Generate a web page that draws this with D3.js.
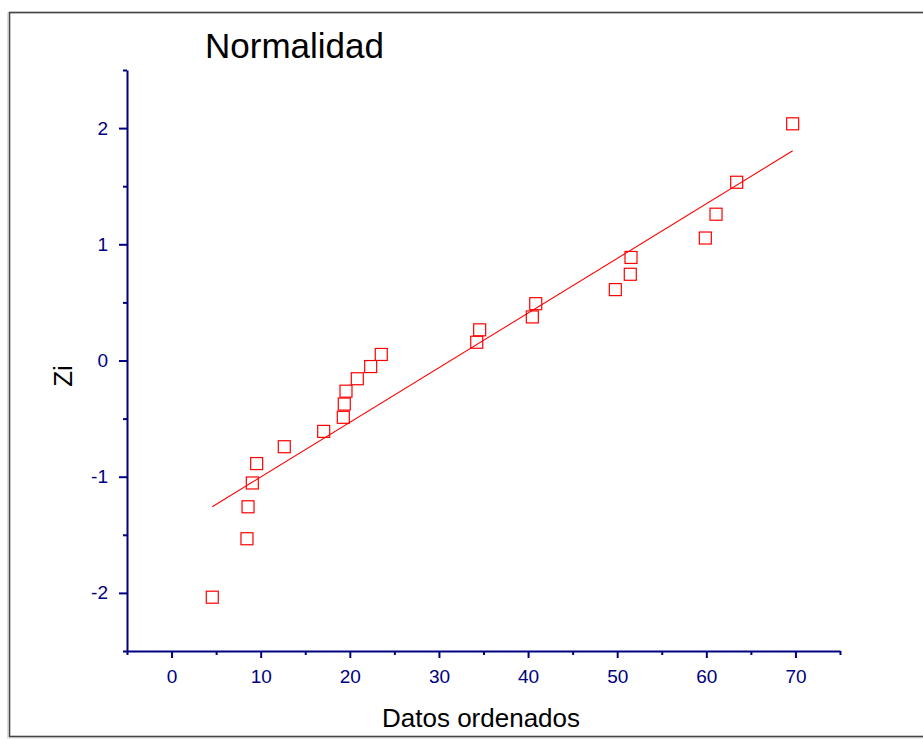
<!DOCTYPE html>
<html>
<head>
<meta charset="utf-8">
<script src="https://cdn.jsdelivr.net/npm/d3@7"></script>
<style>
  html, body { margin: 0; padding: 0; background: #fff; }
  svg { display: block; font-family: "Liberation Sans", Arial, sans-serif; }
</style>
</head>
<body>
<svg id="chart" width="923" height="739"></svg>
<script>
// Ordered sample values and their normal scores
const datos = [4.57, 8.46, 8.58, 9.06, 9.55, 12.65, 17.07, 19.27, 19.38, 19.57, 20.84, 22.34,
               23.53, 34.24, 34.57, 40.48, 40.86, 49.79, 51.47, 51.55, 59.89, 61.09, 63.41, 69.69];
const zi = [-2.037, -1.534, -1.259, -1.054, -0.887, -0.742, -0.610, -0.489, -0.375, -0.264, -0.157, -0.052,
            0.052, 0.157, 0.264, 0.375, 0.489, 0.610, 0.742, 0.887, 1.054, 1.259, 1.534, 2.037];

const xMajor = [0, 10, 20, 30, 40, 50, 60, 70];
const xMinor = [-5, 5, 15, 25, 35, 45, 55, 65, 75];
const yMajor = [-2, -1, 0, 1, 2];
const yMinor = [-2.5, -1.5, -0.5, 0.5, 1.5, 2.5];

const titulo = "Normalidad";
const tituloX = "Datos ordenados";
const tituloY = "Zi";

const svg = d3.select("#chart");
const axisColor = "#000080";
const markColor = "#ff0000";

// Page frame
svg.append("rect")
  .attr("x", 7.5).attr("y", 13).attr("width", 930).attr("height", 725)
  .attr("fill", "none").attr("stroke", "#ddd").attr("stroke-width", 1);
svg.append("rect")
  .attr("x", 9.5).attr("y", 12.5).attr("width", 930).attr("height", 724)
  .attr("fill", "none").attr("stroke", "#444").attr("stroke-width", 1.6);

const x = d3.scaleLinear().domain([-5, 75]).range([127, 840]);
const y = d3.scaleLinear().domain([-2.5, 2.5]).range([651, 70]);

// plain hyphen for negatives
const fmt = d => String(d);

function styleAxis(g) {
  g.select(".domain").attr("stroke", axisColor).attr("stroke-width", 2);
  g.selectAll(".tick line").attr("stroke", axisColor).attr("stroke-width", 2);
  g.selectAll(".tick text").attr("fill", axisColor)
    .attr("font-family", "Liberation Sans, Arial, sans-serif").attr("font-size", 19);
}

// X axis: major ticks with labels, then minor ticks
const gx = svg.append("g").attr("transform", `translate(0,${y(-2.5)})`)
  .call(d3.axisBottom(x).tickValues(xMajor).tickSize(7).tickPadding(12)
        .tickFormat(fmt).tickSizeOuter(0));
styleAxis(gx);
gx.selectAll(".tick text").attr("dy", "0.71em");
const gxm = svg.append("g").attr("transform", `translate(0,${y(-2.5)})`)
  .call(d3.axisBottom(x).tickValues(xMinor).tickSize(4).tickFormat("").tickSizeOuter(0));
styleAxis(gxm);
gxm.select(".domain").remove();

// Y axis
const gy = svg.append("g").attr("transform", `translate(${x(-5)},0)`)
  .call(d3.axisLeft(y).tickValues(yMajor).tickSize(8).tickPadding(11)
        .tickFormat(fmt).tickSizeOuter(0));
styleAxis(gy);
const gym = svg.append("g").attr("transform", `translate(${x(-5)},0)`)
  .call(d3.axisLeft(y).tickValues(yMinor).tickSize(4).tickFormat("").tickSizeOuter(0));
styleAxis(gym);
gym.select(".domain").remove();

// Least-squares fit of Zi on the ordered data
const mx = d3.mean(datos), my = d3.mean(zi);
const sxy = d3.sum(datos, (d, i) => (d - mx) * (zi[i] - my));
const sxx = d3.sum(datos, d => (d - mx) * (d - mx));
const pendiente = sxy / sxx;
const intercepto = my - pendiente * mx;
const extremos = d3.extent(datos);

svg.append("line")
  .attr("x1", x(extremos[0])).attr("y1", y(intercepto + pendiente * extremos[0]))
  .attr("x2", x(extremos[1])).attr("y2", y(intercepto + pendiente * extremos[1]))
  .attr("stroke", markColor).attr("stroke-width", 1.1);

// Point markers: open squares
const s = 12;
svg.append("g").selectAll("rect")
  .data(datos.map((d, i) => [d, zi[i]]))
  .join("rect")
  .attr("x", d => x(d[0]) - s / 2)
  .attr("y", d => y(d[1]) - s / 2)
  .attr("width", s).attr("height", s)
  .attr("fill", "none").attr("stroke", markColor).attr("stroke-width", 1.2);

// Titles
svg.append("text").attr("x", 205).attr("y", 58)
  .attr("font-size", 35).attr("fill", "#000").text(titulo);
svg.append("text").attr("x", 481).attr("y", 727).attr("text-anchor", "middle")
  .attr("font-size", 26).attr("fill", "#000").text(tituloX);
svg.append("text").attr("transform", "translate(72,376) rotate(-90)")
  .attr("text-anchor", "middle").attr("font-size", 26).attr("fill", "#000").text(tituloY);
</script>
</body>
</html>
